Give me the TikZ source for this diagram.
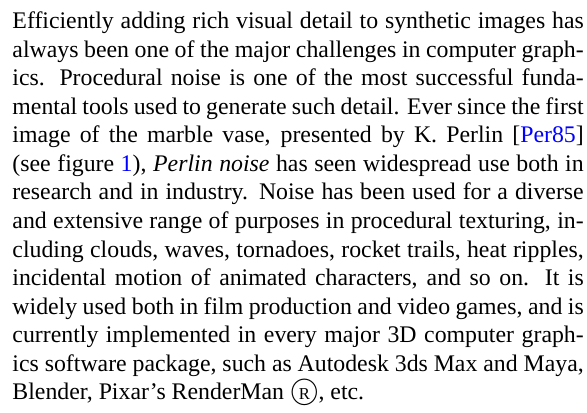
\documentclass[tikz,border=0pt]{standalone}
\usepackage{fontspec}
\setmainfont{Liberation Serif}
\usetikzlibrary{positioning}

\newcommand{\refcite}[1]{[\textcolor{blue}{#1}]}
\newcommand{\reffig}[1]{\textcolor{blue}{#1}}
\newcommand{\regmark}{{\fontsize{11.5pt}{12pt}\selectfont\textcircled{\fontsize{7pt}{7pt}\selectfont R}}}

\begin{document}
\begin{tikzpicture}[inner sep=0pt,minimum size=0mm]

\useasboundingbox (0,0) rectangle (246.6pt,173.1pt);

\node[anchor=north west,text width=240pt,align=justify,font=\fontsize{10pt}{12pt}\selectfont] (para) at (5.04pt,169.7pt)
{\hyphenpenalty=10000 \strut Efficiently adding rich visual detail to synthetic images has\linebreak
always been one of the major challenges in computer graph-\linebreak
ics. Procedural noise is one of the most successful funda-\linebreak
mental tools used to generate such detail. Ever since the first\linebreak
image of the marble vase, presented by K. Perlin \refcite{Per85}\linebreak
(see figure \reffig{1}), \emph{Perlin noise} has seen widespread use both in\linebreak
research and in industry. Noise has been used for a diverse\linebreak
and extensive range of purposes in procedural texturing, in-\linebreak
cluding clouds, waves, tornadoes, rocket trails, heat ripples,\linebreak
incidental motion of animated characters, and so on. It is\linebreak
widely used both in film production and video games, and is\linebreak
currently implemented in every major 3D computer graph-\linebreak
ics software package, such as Autodesk 3ds Max and Maya,\linebreak
Blender, Pixar's RenderMan \regmark, etc.};

\end{tikzpicture}
\end{document}
